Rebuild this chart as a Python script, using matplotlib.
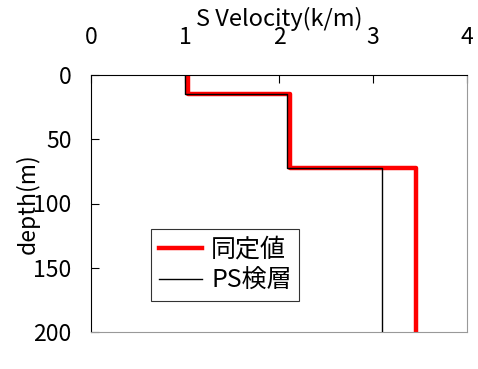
import matplotlib.pyplot as plt

plt.rcParams['font.family'] = ['Noto Sans CJK JP', 'DejaVu Sans']

# 同定値 (identified) and PS logging profiles
depth = [0, 15, 15, 72, 72, 200]
vs_ident = [1.03, 1.03, 2.12, 2.12, 3.46, 3.46]
vs_ps = [1.0, 1.0, 2.09, 2.09, 3.1, 3.1]
xticks = [0, 1, 2, 3, 4]
yticks = [0, 50, 100, 150, 200]

fig = plt.figure(figsize=(4.78, 3.69), dpi=100)
ax = fig.add_axes([91 / 478, 1 - 332 / 369, 376 / 478, 257 / 369])

ax.plot(vs_ident, depth, color='#ff0000', lw=3.2, label='同定値', zorder=2)
ax.plot(vs_ps, depth, color='black', lw=1.0, label='PS検層', zorder=3)

ax.set_xlim(0, 4)
ax.set_ylim(200, 0)
ax.set_xticks(xticks)
ax.set_yticks(yticks)
ax.xaxis.tick_top()
ax.xaxis.set_label_position('top')
ax.tick_params(direction='in', length=6, labelsize=16.5, width=0.8)
ax.tick_params(axis='x', pad=19)
ax.tick_params(axis='y', pad=14)
ax.set_xlabel('S Velocity(k/m)', fontsize=17, labelpad=0)
ax.set_ylabel('depth(m)', fontsize=16.5)
ax.yaxis.set_label_coords(-0.135, 0.5)

ax.spines['right'].set_color('#999999')
ax.spines['bottom'].set_color('#999999')

leg = ax.legend(loc='upper left', bbox_to_anchor=(0.16, 0.40), fontsize=18,
                frameon=True, fancybox=False, edgecolor='black',
                handlelength=1.75, handletextpad=0.35, borderpad=0.3,
                labelspacing=0.2, borderaxespad=0)
leg.get_frame().set_linewidth(0.8)

fig.savefig('out.png', dpi=100)
